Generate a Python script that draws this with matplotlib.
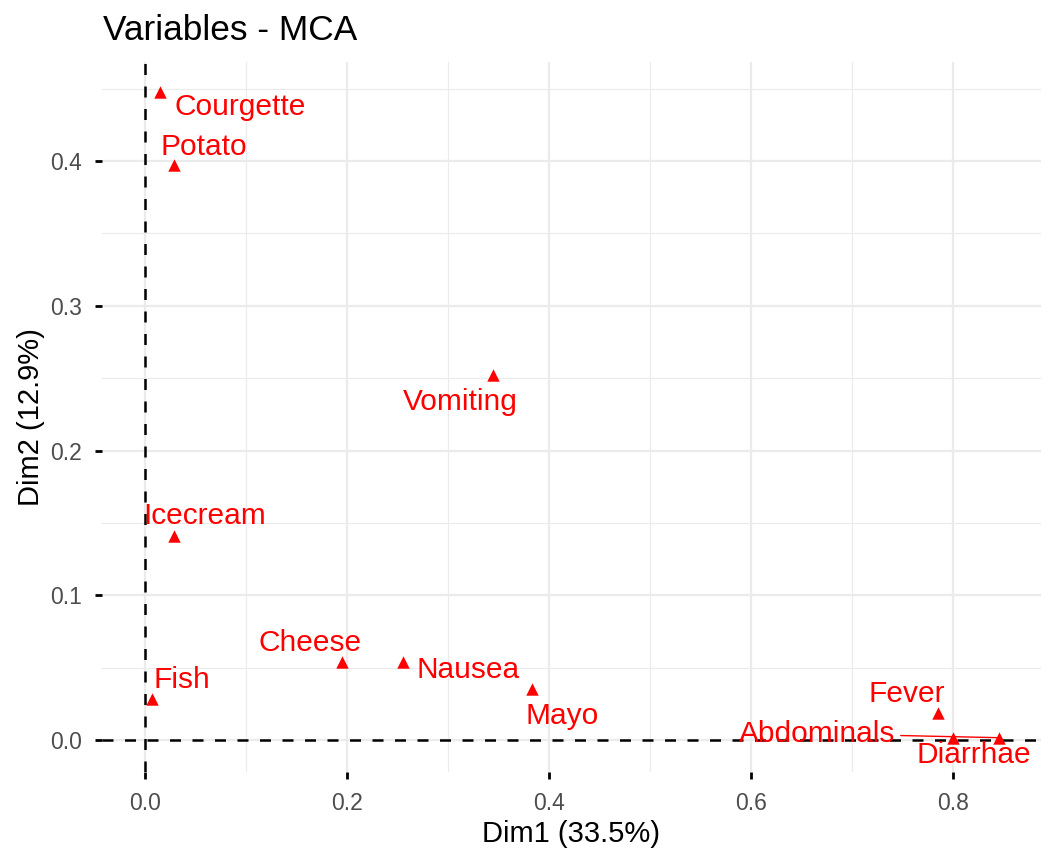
import matplotlib
matplotlib.use("Agg")
import matplotlib.pyplot as plt
from matplotlib.ticker import MultipleLocator, FormatStrFormatter

plt.rcParams['font.family'] = ['Liberation Sans', 'DejaVu Sans']

# Data
names = ["Courgette", "Potato", "Vomiting", "Icecream", "Cheese", "Nausea",
         "Mayo", "Fish", "Fever", "Abdominals", "Diarrhae"]
dim1 = [0.0149, 0.0287, 0.3442, 0.0287, 0.1948, 0.2558,
        0.3835, 0.0066, 0.7848, 0.8455, 0.8003]
dim2 = [0.4476, 0.3972, 0.2521, 0.1411, 0.0541, 0.0537,
        0.0352, 0.0281, 0.0184, 0.0016, 0.0012]
xlabel = "Dim1 (33.5%)"
ylabel = "Dim2 (12.9%)"
title = "Variables - MCA"

# label offsets (pixels: dx right, dy up) relative to point, baseline anchored
label_offsets = {
    "Courgette": (80, -23), "Potato": (30, 10), "Vomiting": (-32, -35),
    "Icecream": (31, 12), "Cheese": (-32, 11), "Nausea": (65, -16),
    "Mayo": (30, -35), "Fish": (30, 11), "Fever": (-31, 11),
    "Abdominals": (-182, -4), "Diarrhae": (20, -25),
}

W, H = 1056, 864
fig = plt.figure(figsize=(W / 100, H / 100), dpi=100)
L, R, T, B = 102, 1041, 62, 772
ax = fig.add_axes([L / W, 1 - B / H, (R - L) / W, (B - T) / H])

ax.set_xlim(-0.0426, 0.8871)
ax.set_ylim(-0.0221, 0.4684)

ax.xaxis.set_major_locator(MultipleLocator(0.2))
ax.xaxis.set_minor_locator(MultipleLocator(0.1))
ax.yaxis.set_major_locator(MultipleLocator(0.1))
ax.yaxis.set_minor_locator(MultipleLocator(0.05))
ax.xaxis.set_major_formatter(FormatStrFormatter('%.1f'))
ax.yaxis.set_major_formatter(FormatStrFormatter('%.1f'))

ax.grid(which='major', color='#EBEBEB', linewidth=1.6)
ax.grid(which='minor', color='#EBEBEB', linewidth=0.8)
ax.set_axisbelow(True)
for s in ax.spines.values():
    s.set_visible(False)

ax.tick_params(which='major', length=4.8, width=2.0, color='black',
               labelsize=16.5, labelcolor='#4D4D4D', pad=9.5)
ax.tick_params(which='minor', length=0)

ax.axhline(0, color='black', linestyle=(0, (4.4, 4.6)), linewidth=1.8, zorder=2)
ax.axvline(0, color='black', linestyle=(0, (4.4, 4.6)), linewidth=1.8, zorder=2)

ax.scatter(dim1, dim2, marker='^', s=80, color='#FF0000', linewidths=0, zorder=3)

for n, x, y in zip(names, dim1, dim2):
    dx, dy = label_offsets[n]
    kw = {}
    if n == "Abdominals":
        kw['arrowprops'] = dict(arrowstyle='-', color='#FF0000', lw=1.0,
                                shrinkA=2, shrinkB=0)
    ax.annotate(n, xy=(x, y), xytext=(dx, dy), textcoords='offset pixels',
                ha='center', va='baseline', color='#FF0000', fontsize=21.5,
                zorder=4, **kw)

ax.set_xlabel(xlabel, fontsize=21, color='black', labelpad=3.5)
ax.set_ylabel(ylabel, fontsize=21, color='black', labelpad=4)
fig.text(103 / W, 1 - 40 / H, title, fontsize=25.4, color='black',
         ha='left', va='baseline')

fig.savefig("out.png", dpi=100, facecolor='white')
